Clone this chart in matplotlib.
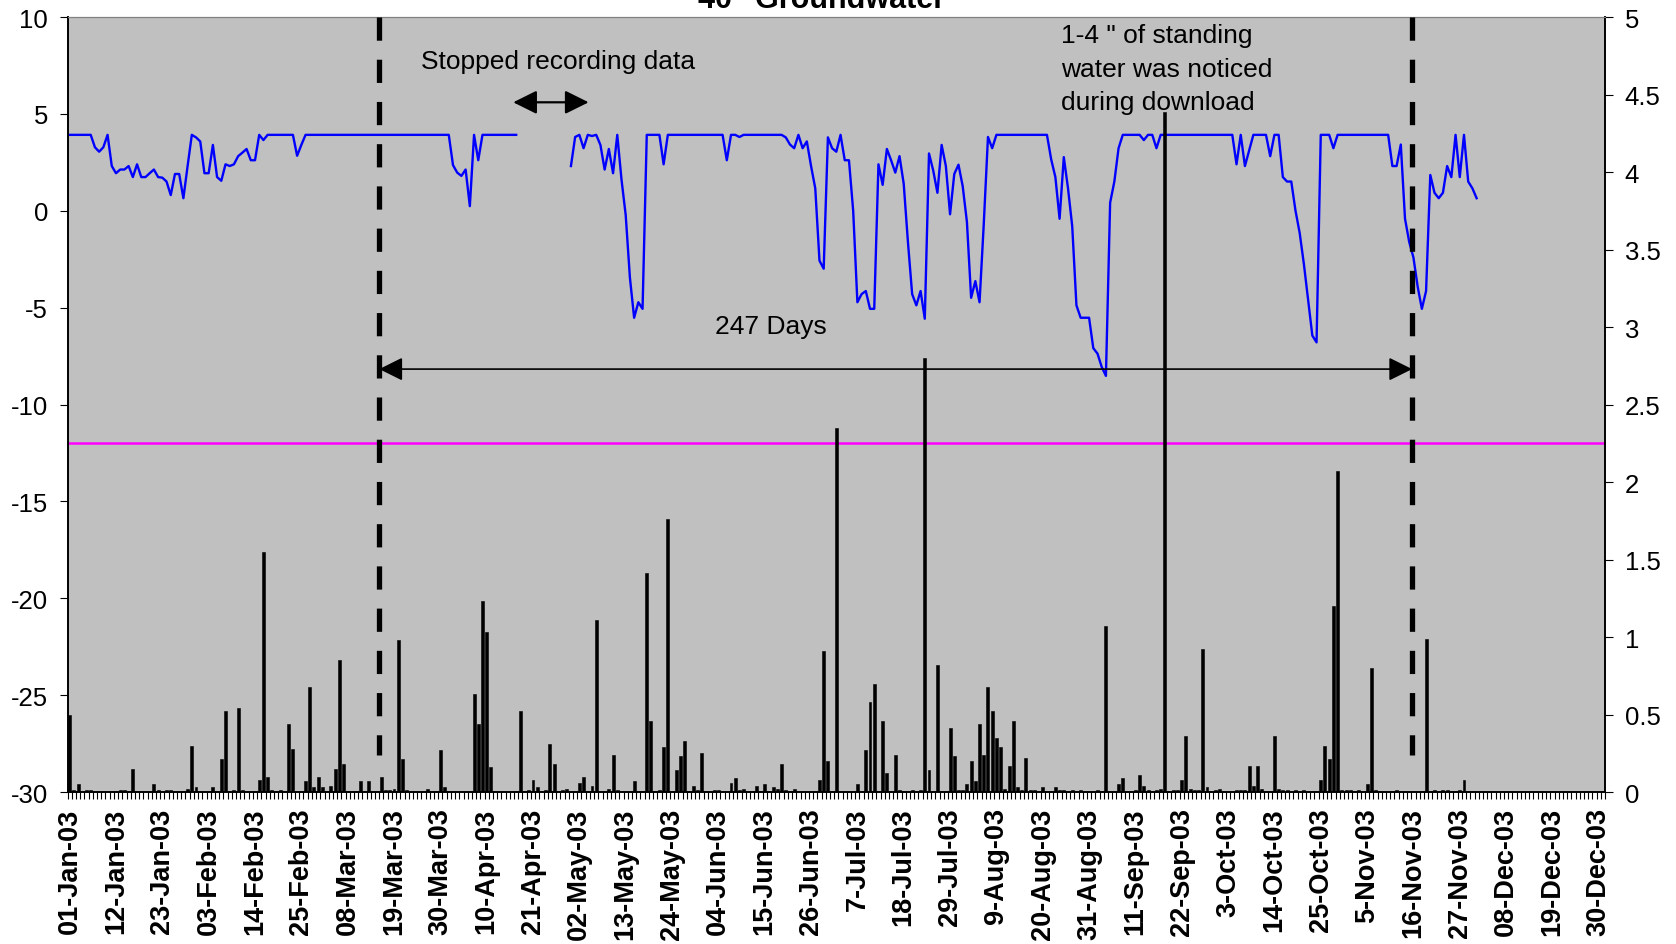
import numpy as np
import matplotlib
matplotlib.use("Agg")
import matplotlib.pyplot as plt

plt.rcParams['font.family'] = ['Liberation Sans', 'DejaVu Sans']
plt.rcParams['axes.unicode_minus'] = False

n_days = 365  # 01-Jan-03 .. 31-Dec-03, one category per day

# groundwater level (left axis), logger stopped for part of April
gw_start_1 = 0
gw_level_1 = [
	3.92, 3.92, 3.92, 3.92, 3.92, 3.92, 3.28, 3.05, 3.28, 3.92,
	2.31, 1.94, 2.13, 2.13, 2.31, 1.74, 2.40, 1.74, 1.74, 1.94,
	2.13, 1.74, 1.71, 1.51, 0.81, 1.90, 1.90, 0.65, 2.31, 3.92,
	3.79, 3.58, 1.94, 1.94, 3.40, 1.74, 1.55, 2.40, 2.31, 2.40,
	2.82, 3.00, 3.19, 2.61, 2.61, 3.92, 3.65, 3.92, 3.92, 3.92,
	3.92, 3.92, 3.92, 3.92, 2.84, 3.40, 3.92, 3.92, 3.92, 3.92,
	3.92, 3.92, 3.92, 3.92, 3.92, 3.92, 3.92, 3.92, 3.92, 3.92,
	3.92, 3.92, 3.92, 3.92, 3.92, 3.92, 3.92, 3.92, 3.92, 3.92,
	3.92, 3.92, 3.92, 3.92, 3.92, 3.92, 3.92, 3.92, 3.92, 3.92,
	3.92, 2.36, 1.97, 1.80, 2.13, 0.24, 3.92, 2.61, 3.92, 3.92,
	3.92, 3.92, 3.92, 3.92, 3.92, 3.92, 3.92,
]
gw_start_2 = 119
gw_level_2 = [
	2.31,
	3.81, 3.92, 3.23, 3.92, 3.86, 3.92, 3.40, 2.13, 3.19, 1.94,
	3.92, 1.62, -0.22, -3.45, -5.52, -4.72, -5.06, 3.92, 3.92, 3.92,
	3.92, 2.40, 3.92, 3.92, 3.92, 3.92, 3.92, 3.92, 3.92, 3.92,
	3.92, 3.92, 3.92, 3.92, 3.92, 3.92, 2.61, 3.92, 3.92, 3.81,
	3.92, 3.92, 3.92, 3.92, 3.92, 3.92, 3.92, 3.92, 3.92, 3.92,
	3.79, 3.42, 3.23, 3.92, 3.23, 3.58, 2.31, 1.16, -2.57, -2.99,
	3.79, 3.23, 3.05, 3.92, 2.61, 2.61, 0.01, -4.72, -4.30, -4.14,
	-5.06, -5.06, 2.40, 1.34, 3.19, 2.61, 1.97, 2.82, 1.39, -1.61,
	-4.30, -4.88, -4.14, -5.57, 2.96, 2.08, 0.93, 3.40, 2.31, -0.18,
	1.90, 2.38, 1.27, -0.57, -4.49, -3.63, -4.72, -0.68, 3.81, 3.23,
	3.92, 3.92, 3.92, 3.92, 3.92, 3.92, 3.92, 3.92, 3.92, 3.92,
	3.92, 3.92, 3.92, 2.66, 1.74, -0.41, 2.77, 1.16, -0.80, -4.88,
	-5.52, -5.52, -5.52, -7.09, -7.37, -8.06, -8.52, 0.42, 1.51, 3.23,
	3.92, 3.92, 3.92, 3.92, 3.92, 3.65, 3.92, 3.92, 3.23, 3.92,
	3.92, 3.92, 3.92, 3.92, 3.92, 3.92, 3.92, 3.92, 3.92, 3.92,
	3.92, 3.92, 3.92, 3.92, 3.92, 3.92, 3.92, 2.40, 3.92, 2.31,
	3.12, 3.92, 3.92, 3.92, 3.92, 2.82, 3.92, 3.92, 1.74, 1.51,
	1.51, 0.01, -1.15, -2.76, -4.60, -6.44, -6.79, 3.92, 3.92, 3.92,
	3.23, 3.92, 3.92, 3.92, 3.92, 3.92, 3.92, 3.92, 3.92, 3.92,
	3.92, 3.92, 3.92, 3.92, 2.31, 2.31, 3.42, -0.41, -1.61, -2.41,
	-3.91, -5.06, -4.14, 1.85, 0.93, 0.65, 0.93, 2.31, 1.74, 3.92,
	1.74, 3.92, 1.51, 1.16, 0.65,
]

# daily rainfall (right axis), days not listed had none
rain_days = [
	0, 1, 2, 4, 5, 12, 13, 15, 20, 21, 23, 24, 28, 29, 30, 34, 36, 37, 39, 40,
	41, 45, 46, 47, 48, 50, 52, 53, 56, 57, 58, 59, 60, 62, 63, 64, 65, 69, 71, 74,
	75, 76, 77, 78, 79, 80, 85, 88, 89,
	96, 97, 98, 99, 100, 107, 109, 110, 111, 113, 114, 115, 117, 118, 121, 122, 124, 125, 128, 129,
	130, 134, 137, 138, 140, 141, 142, 144, 145, 146, 148, 149, 150, 153, 154, 157, 158, 159, 160, 163,
	165, 167, 168, 169, 170, 172, 178, 179, 180, 182,
	187, 189, 190, 191, 193, 194, 196, 197, 200, 202, 203, 204, 206, 209, 210, 211, 212, 213, 214, 215,
	216, 217, 218, 219, 220, 221, 222, 223, 224, 225, 226, 227, 228, 229, 231, 234, 235, 236, 238, 240,
	244, 246, 249, 250, 253, 254, 255, 256, 258, 259, 260, 262, 263, 264, 265, 266, 267, 268, 269, 270,
	272, 273,
	277, 278, 279, 280, 281, 282, 283, 286, 287, 288, 289, 291, 293, 297, 298, 299, 300, 301, 302, 303,
	304, 306, 308, 309, 310, 315, 322, 324, 326, 327, 330, 331,
]
rain_in = [
	0.50, 0.01, 0.05, 0.01, 0.01, 0.01, 0.01, 0.15, 0.05, 0.01, 0.01, 0.01, 0.02, 0.30, 0.03, 0.03, 0.21, 0.52, 0.01, 0.54,
	0.01, 0.08, 1.55, 0.10, 0.01, 0.01, 0.44, 0.28, 0.07, 0.68, 0.03, 0.10, 0.03, 0.04, 0.15, 0.85, 0.18, 0.07, 0.07, 0.10,
	0.01, 0.01, 0.02, 0.98, 0.21, 0.01, 0.02, 0.27, 0.03,
	0.63, 0.44, 1.23, 1.03, 0.16, 0.52, 0.01, 0.08, 0.03, 0.01, 0.31, 0.18, 0.01, 0.02, 0.06, 0.10, 0.04, 1.11, 0.02, 0.24,
	0.01, 0.07, 1.41, 0.46, 0.01, 0.29, 1.76, 0.14, 0.23, 0.33, 0.04, 0.01, 0.25, 0.01, 0.01, 0.06, 0.09, 0.01, 0.02, 0.04,
	0.05, 0.03, 0.02, 0.18, 0.01, 0.02, 0.08, 0.91, 0.20, 2.35,
	0.05, 0.27, 0.58, 0.70, 0.46, 0.12, 0.24, 0.01, 0.01, 0.01, 2.80, 0.14, 0.82, 0.41, 0.23, 0.01, 0.01, 0.05, 0.20, 0.07,
	0.44, 0.24, 0.68, 0.52, 0.35, 0.29, 0.02, 0.17, 0.46, 0.03, 0.01, 0.22, 0.01, 0.01, 0.03, 0.03, 0.01, 0.01, 0.01, 0.01,
	0.01, 1.07, 0.05, 0.09, 0.01, 0.11, 0.04, 0.01, 0.01, 0.02, 4.39, 0.01, 0.01, 0.08, 0.36, 0.02, 0.01, 0.01, 0.92, 0.03,
	0.01, 0.02,
	0.01, 0.01, 0.01, 0.17, 0.04, 0.17, 0.02, 0.36, 0.02, 0.01, 0.01, 0.01, 0.01, 0.08, 0.30, 0.21, 1.20, 2.07, 0.01, 0.01,
	0.01, 0.01, 0.05, 0.80, 0.01, 0.01, 0.99, 0.01, 0.01, 0.01, 0.01, 0.08,
]

tick_days = list(range(0, 364, 11))
tick_labels = [
	"01-Jan-03", "12-Jan-03", "23-Jan-03", "03-Feb-03", "14-Feb-03", "25-Feb-03",
	"08-Mar-03", "19-Mar-03", "30-Mar-03", "10-Apr-03", "21-Apr-03", "02-May-03",
	"13-May-03", "24-May-03", "04-Jun-03", "15-Jun-03", "26-Jun-03", "7-Jul-03",
	"18-Jul-03", "29-Jul-03", "9-Aug-03", "20-Aug-03", "31-Aug-03", "11-Sep-03",
	"22-Sep-03", "3-Oct-03", "14-Oct-03", "25-Oct-03", "5-Nov-03", "16-Nov-03",
	"27-Nov-03", "08-Dec-03", "19-Dec-03", "30-Dec-03",
]

# annotation anchors (day index, left-axis value)
threshold = -12
dash_days = [73.5, 318.7]
span_y = -8.17
gap_arrow = (105.3, 123.2, 5.6)


days = np.arange(n_days)
gw = np.full(n_days, np.nan)
gw[gw_start_1:gw_start_1 + len(gw_level_1)] = gw_level_1
gw[gw_start_2:gw_start_2 + len(gw_level_2)] = gw_level_2

fig = plt.figure(figsize=(16.76, 9.45), dpi=100)
ax = fig.add_axes([0.0403, 0.1608, 0.9174, 0.8201])
ax.set_facecolor('#C0C0C0')

ax.axhline(threshold, color='#FF00FF', lw=1.8, zorder=2)
ax.plot(days, gw, color='#0000FF', lw=1.7, zorder=3)

ax.set_ylim(-30, 10)
ax.set_yticks(np.arange(-30, 11, 5))
ax.tick_params(axis='y', labelsize=18.5, length=6, pad=8)

ax.set_xticks(tick_days)
ax.set_xticklabels(tick_labels, rotation=90, fontsize=19.5, fontweight='bold')
ax.tick_params(axis='x', which='major', length=0, pad=11)
ax.set_xticks(np.arange(-0.5, n_days, 1), minor=True)
ax.tick_params(axis='x', which='minor', length=5, width=0.8)

ax2 = ax.twinx()
ax2.bar(rain_days, rain_in, width=0.7, color='black', edgecolor='black', lw=0.4, zorder=2)
ax2.set_ylim(0, 5)
ax2.set_yticks(np.arange(0, 5.01, 0.5))
ax2.set_yticklabels(['%g' % v for v in np.arange(0, 5.01, 0.5)])
ax2.tick_params(axis='y', labelsize=18.5, length=6, pad=8)

for a in (ax, ax2):
	a.spines['top'].set_color('#808080')
	for s in ('left', 'right', 'bottom'):
		a.spines[s].set_color('black')
		a.spines[s].set_linewidth(1.2)

# shapes drawn on top, positioned in left-axis coordinates
for x in dash_days:
	ax2.plot([x, x], [10, -28.1], transform=ax.transData, color='black',
			 lw=3.8, ls=(0, (4.4, 3.6)), solid_capstyle='butt', zorder=5)

head = 'head_length=1.45,head_width=0.72'
ax2.annotate('', xy=(dash_days[0], span_y), xytext=(dash_days[1], span_y),
			 xycoords=ax.transData, textcoords=ax.transData,
			 arrowprops=dict(arrowstyle='<|-|>,' + head, color='black', lw=1.2,
							 shrinkA=0, shrinkB=0, mutation_scale=10), zorder=6)
ax2.annotate('', xy=(gap_arrow[0], gap_arrow[2]), xytext=(gap_arrow[1], gap_arrow[2]),
			 xycoords=ax.transData, textcoords=ax.transData,
			 arrowprops=dict(arrowstyle='<|-|>,' + head, color='black', lw=1.6,
							 shrinkA=0, shrinkB=0, mutation_scale=10), zorder=6)

ax2.text(116.0, 7.73, 'Stopped recording data', transform=ax.transData,
		 ha='center', va='center', fontsize=19, zorder=6)
ax2.text(166.4, -5.94, '247 Days', transform=ax.transData,
		 ha='center', va='center', fontsize=19, zorder=6)
note_lines = ['1-4 " of standing', 'water was noticed', 'during download']
for line, y in zip(note_lines, [9.05, 7.34, 5.63]):
	ax2.text(235.3, y, line, transform=ax.transData,
			 ha='left', va='center', fontsize=19, zorder=6)

ax.set_xlim(-0.5, n_days - 0.5)

# the title sits partly above the top edge, as in the source chart
fig.text(822 / 1676, 1 - 8 / 945, '40" Groundwater', ha='center', va='baseline',
		 fontsize=22, fontweight='bold')

fig.savefig('out.png', dpi=100, facecolor='white')
